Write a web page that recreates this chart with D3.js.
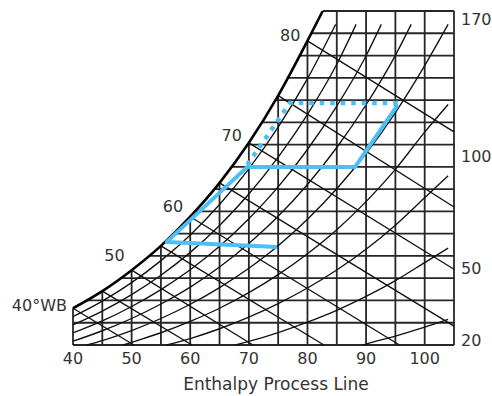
<!DOCTYPE html>
<html><head><meta charset="utf-8">
<script src="https://cdn.jsdelivr.net/npm/d3@7"></script>
<style>html,body{margin:0;padding:0;background:#fff;} svg{display:block;}</style>
</head><body>
<svg id="c" width="492" height="396"></svg>
<script>
// ---- data (dry bulb °F, humidity ratio grains/lb) ----
const dryBulbTicks = [40, 50, 60, 70, 80, 90, 100];
const gridTemps = [40, 45, 50, 55, 60, 65, 70, 75, 80, 85, 90, 95, 100, 105];
const gridGrains = [20, 30, 40, 50, 60, 70, 80, 90, 100, 110, 120, 130, 140, 150, 160, 170];
const grainLabels = [20, 50, 100, 170];

const satTemps  = [40, 45, 50, 55, 60, 65, 70, 75, 80, 82.6];
const satGrains = [36.5, 44.2, 53.6, 64.5, 77.6, 92.8, 110.8, 132.0, 156.6, 170];

const wbValues = [40, 45, 50, 55, 60, 65, 70, 75, 80];
const wbEndTemps  = [50.4, 60.3, 70.7, 82.8, 95.7, 105, 105, 105, 105];
const wbEndGrains = [20, 20, 20, 20, 20, 28.5, 54, 82, 115.7];
const wbLabels = [40, 50, 60, 70, 80];

const rh90 = [[40,32.7],[45,39.7],[50,48.0],[55,57.9],[60,69.4],[65,83.1],[70,99.1],[75,117.8],[80,139.6],[84.8,164]];
const rh80 = [[40,29.0],[45,35.2],[50,42.6],[55,51.3],[60,61.6],[65,73.7],[70,87.8],[75,104.4],[80,123.6],[85,146.1],[88.3,164]];
const rh70 = [[40,25.4],[45,30.8],[50,37.3],[55,44.9],[60,53.8],[65,64.3],[70,76.7],[75,91.0],[80,107.8],[85,127.3],[90,149.9],[92.6,164]];
const rh60 = [[40,21.7],[45,26.4],[50,31.9],[55,38.4],[60,46.0],[65,55.0],[70,65.6],[75,77.8],[80,92.1],[85,108.7],[90,127.9],[95,150.1],[97.7,164]];
const rh50 = [[42.4,20],[45,22.0],[50,26.5],[55,31.9],[60,38.3],[65,45.8],[70,54.5],[75,64.6],[80,76.5],[85,90.2],[90,106.0],[95,124.4],[100,145.5],[104,164]];
const rh40 = [[48.6,20],[50,21.2],[55,25.5],[60,30.6],[65,36.5],[70,43.5],[75,51.6],[80,61.0],[85,71.8],[90,84.4],[95,98.9],[100,115.6],[104,128]];
const rh30 = [[56,20],[60,22.9],[65,27.3],[70,32.5],[75,38.6],[80,45.6],[85,53.7],[90,63.0],[95,73.8],[100,86.1],[104,96]];
const rh20 = [[67.7,20],[70,21.6],[75,25.6],[80,30.3],[85,35.6],[90,41.8],[95,48.9],[100,57.0],[104,63.5]];
const rh10 = [[89.5,20],[90,20.4],[95,24.0],[100,28.0],[104,31.5]];
const rhCurves = [rh90, rh80, rh70, rh60, rh50, rh40, rh30, rh20, rh10];

const processSolid  = [[74.8,64.0],[56.0,66.3],[69.7,99.9],[88.1,99.9],[95.4,127.8]];
const processDotted = [[95.4,128.7],[77.0,128.7],[69.7,100.8]];

const axisTitle = "Enthalpy Process Line";

// ---- scales ----
const x = d3.scaleLinear().domain([40, 105]).range([73, 454]);
const y = d3.scaleLinear().domain([20, 170]).range([345, 11]);
const tMin = x.domain()[0], tMax = x.domain()[1];
const wMin = y.domain()[0], wMax = y.domain()[1];

const svg = d3.select("#c");
const font = "'DejaVu Sans', Verdana, sans-serif";
const textColor = "#333";

const satPts = satTemps.map((t, i) => [t, satGrains[i]]);
const line = d3.line().x(d => x(d[0])).y(d => y(d[1]));
const curve = d3.line().x(d => x(d[0])).y(d => y(d[1])).curve(d3.curveMonotoneX);

// clip region = area under saturation curve, inside the box (padded for strokes)
const satPath = curve(satPts);
const last = satPts[satPts.length - 1];
const clipD = `M${x(tMin)-3},${y(wMin)+3}L${x(tMin)-3},${y(satPts[0][1])}` +
  satPath.replace(/^M/, "L") +
  `L${x(last[0])},${y(wMax)-3}L${x(tMax)+3},${y(wMax)-3}L${x(tMax)+3},${y(wMin)+3}Z`;
svg.append("defs").append("clipPath").attr("id", "under").append("path").attr("d", clipD);

const g = svg.append("g").attr("clip-path", "url(#under)");

// grid: vertical dry-bulb lines
g.selectAll("line.v").data(gridTemps).join("line")
  .attr("x1", d => x(d)).attr("x2", d => x(d))
  .attr("y1", y(wMin)).attr("y2", y(wMax))
  .attr("stroke", "#262626").attr("stroke-width", 1.8);
// grid: horizontal humidity lines
g.selectAll("line.h").data(gridGrains).join("line")
  .attr("x1", x(tMin)).attr("x2", x(tMax))
  .attr("y1", d => y(d)).attr("y2", d => y(d))
  .attr("stroke", "#262626").attr("stroke-width", 1.8);

// relative humidity curves
g.selectAll("path.rh").data(rhCurves).join("path")
  .attr("d", d => curve(d)).attr("fill", "none")
  .attr("stroke", "#111").attr("stroke-width", 1.35);

// wet bulb lines
g.selectAll("path.wb").data(wbValues).join("path")
  .attr("d", (wb, i) => line([[wb, satGrains[satTemps.indexOf(wb)]], [wbEndTemps[i], wbEndGrains[i]]]))
  .attr("fill", "none").attr("stroke", "#111").attr("stroke-width", 1.35);

// saturation curve
svg.append("path").attr("d", satPath).attr("fill", "none")
  .attr("stroke", "#000").attr("stroke-width", 2.6);

// process lines
const blue = "#4cc0f6";
svg.append("path").attr("d", line(processSolid)).attr("fill", "none")
  .attr("stroke", blue).attr("stroke-width", 4).attr("stroke-linejoin", "round");
svg.append("path").attr("d", line(processDotted)).attr("fill", "none")
  .attr("stroke", blue).attr("stroke-width", 4.5).attr("stroke-dasharray", "4.5 6");

// bottom tick labels
svg.selectAll("text.xt").data(dryBulbTicks).join("text")
  .attr("x", d => x(d)).attr("y", 364)
  .attr("text-anchor", "middle").attr("font-family", font).attr("font-size", 16)
  .attr("fill", textColor).text(d => d);

// right labels
const lo = d3.min(grainLabels), hi = d3.max(grainLabels);
svg.selectAll("text.yt").data(grainLabels).join("text")
  .attr("x", x(tMax) + 7)
  .attr("y", d => d === lo ? y(d) - 5 : Math.max(y(d) - 10, y(hi) + 8))
  .attr("dominant-baseline", "central")
  .attr("font-family", font).attr("font-size", 16).attr("fill", textColor)
  .text(d => d);

// wet bulb labels: placed left of the saturation curve, offset depends on local curve slope
function satSlope(t) {
  const i = satTemps.indexOf(t);
  const a = Math.max(0, i - 1), b = Math.min(satTemps.length - 1, i + 1);
  return (y(satGrains[a]) - y(satGrains[b])) / (x(satTemps[b]) - x(satTemps[a]));
}
svg.selectAll("text.wb").data(wbLabels).join("text")
  .attr("x", d => x(d) - (d === tMin ? 6 : 7))
  .attr("y", d => y(satGrains[satTemps.indexOf(d)]) - (d === tMin ? 3 : 11 / satSlope(d)))
  .attr("dominant-baseline", "central").attr("text-anchor", "end")
  .attr("font-family", font).attr("font-size", 16).attr("fill", textColor)
  .text(d => d === tMin ? d + "°WB" : d);

// axis title
svg.append("text").attr("x", 276).attr("y", 390)
  .attr("text-anchor", "middle").attr("font-family", font).attr("font-size", 17)
  .attr("fill", textColor).text(axisTitle);
</script>
</body></html>
